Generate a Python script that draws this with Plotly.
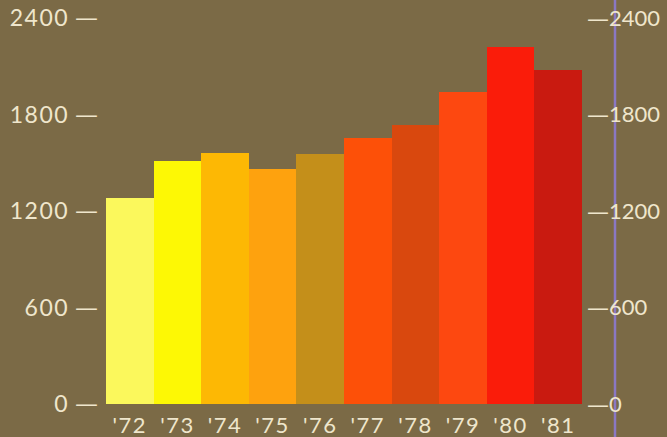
import plotly.graph_objects as go

# Annual totals, 1972-1981
years = ["'72", "'73", "'74", "'75", "'76", "'77", "'78", "'79", "'80", "'81"]
values = [1278, 1510, 1558, 1463, 1552, 1656, 1735, 1937, 2218, 2076]
bar_colors = ["#fbf85c", "#fdf805", "#fdb804", "#fea20e", "#c48f1a",
              "#fd5008", "#d9480e", "#fd4810", "#fa1c0a", "#c91a10"]

tick_vals = [0, 600, 1200, 1800, 2400]

# tick labels carry their own dash, set in a font with a full-width em dash
DASH = "<span style='font-family:DejaVu Sans'>—</span>"
def spaced(s, px=1.5):
    return f"<span style='letter-spacing:{px}px'>{s}</span>"
left_ticks = [f"{spaced(v)} {DASH}" for v in tick_vals]
right_ticks = [f"{DASH}{spaced(v, 0)}" for v in tick_vals]
x_ticks = [spaced(y) for y in years]

BG = "#7b6a46"
INK = "#efe6cc"
FONT = "Lato"

fig = go.Figure()
fig.add_trace(go.Bar(
    x=years, y=values,
    marker=dict(color=bar_colors, line=dict(width=0)),
    hoverinfo="x+y",
))
# invisible companion trace so the right-hand scale is drawn
fig.add_trace(go.Scatter(x=years, y=values, yaxis="y2", mode="markers",
                         marker=dict(opacity=0), hoverinfo="skip", showlegend=False))

W, H = 667, 437
L, R, T, B = 106, 85, 18, 33

fig.update_layout(
    width=W, height=H,
    margin=dict(l=L, r=R, t=T, b=B, pad=0, autoexpand=False),
    paper_bgcolor=BG, plot_bgcolor=BG,
    showlegend=False,
    bargap=0,
    font=dict(family=FONT, color=INK, size=23),
    xaxis=dict(
        type="category", range=[-0.5, 9.5], automargin=False,
        tickvals=years, ticktext=x_ticks,
        showgrid=False, zeroline=False, showline=False, ticks="",
        tickfont=dict(size=22), ticklabelstandoff=6,
    ),
    yaxis=dict(
        range=[0, 2400], tickvals=tick_vals, ticktext=left_ticks, automargin=False,
        showgrid=False, zeroline=False, showline=False, ticks="",
        tickfont=dict(size=23), ticklabelstandoff=7,
    ),
    yaxis2=dict(
        range=[0, 2400], tickvals=tick_vals, ticktext=right_ticks, automargin=False,
        overlaying="y", side="right",
        showgrid=False, zeroline=False, showline=False, ticks="",
        tickfont=dict(size=22), ticklabelstandoff=4,
    ),
)

# thin violet rule running the full height on the right
plot_w = W - L - R
rule_x = (615 - L) / plot_w
fig.add_shape(type="line", xref="paper", yref="paper",
              x0=rule_x, x1=rule_x, y0=-0.2, y1=1.2,
              line=dict(color="#8a78c4", width=2.5), layer="below")

fig.write_html("out.html")
